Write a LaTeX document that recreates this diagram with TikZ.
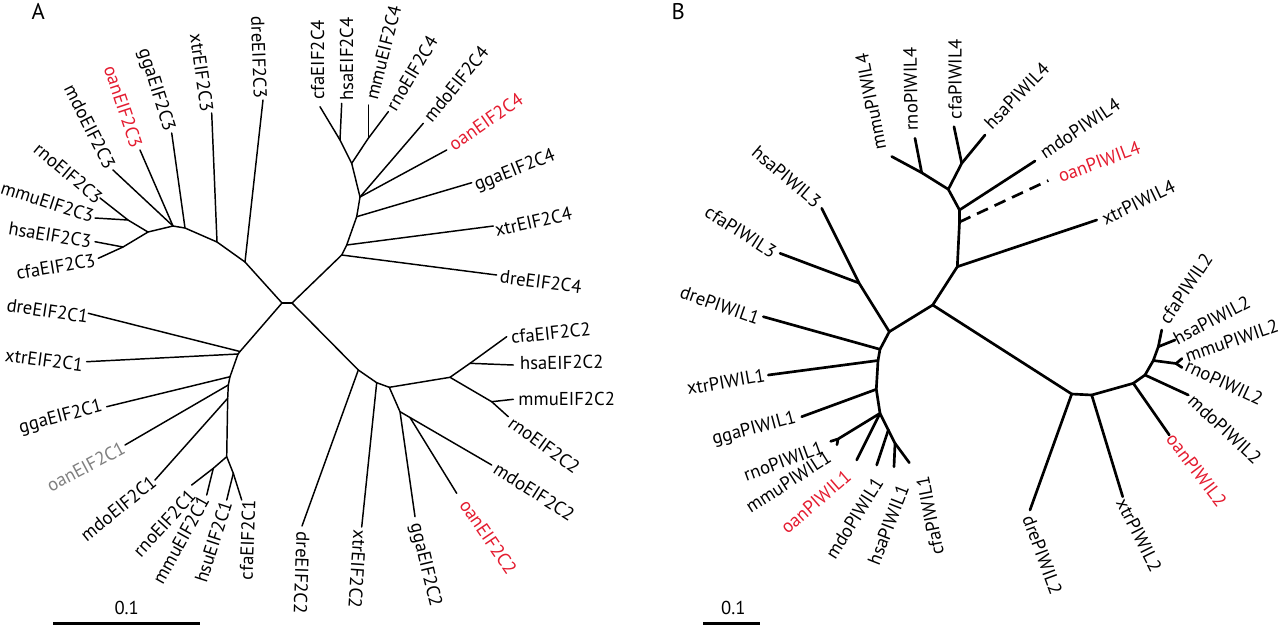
\documentclass[tikz,border=0pt]{standalone}
\usepackage{fontspec}
\setmainfont{PT Sans}
\definecolor{oanred}{RGB}{228,28,48}
\definecolor{oangrey}{RGB}{128,128,128}
\begin{document}
\begin{tikzpicture}[x=0.75pt,y=-0.75pt,
  brA/.style={line width=1.1pt,line cap=round,line join=round},
  brB/.style={line width=2pt,line cap=round,line join=round},
  lbl/.style={inner sep=0pt,font=\fontsize{14}{16}\selectfont},
  hl/.style={text=oanred},
  gr/.style={text=oangrey},
  sbar/.style={line width=2pt},
  dashbr/.style={line width=2pt,dash pattern=on 9pt off 5.5pt}]
\useasboundingbox (0,0) rectangle (1280,626);

% ================= Panel A =================
\node[lbl,font=\fontsize{17}{19}\selectfont] (panelA) at (38.3,11.7) {A};
\coordinate (cA1) at (282,303);
\coordinate (cA2) at (292,303);
% EIF2C3 clade
\coordinate (a3n1) at (245,262);
\coordinate (a3n2) at (217,242);
\coordinate (a3n3) at (185,228);
\coordinate (a3n4) at (173,226);
\coordinate (a3n5) at (148,232);
\coordinate (a3rm) at (128,220);
\coordinate (a3hc) at (123,247);
\coordinate (dre3) at (263,100);
\coordinate (xtr3) at (211.7,113);
\coordinate (gga3) at (171.7,133);
\coordinate (oan3) at (140,150);
\coordinate (mdo3) at (113,170);
\coordinate (rno3) at (100,198);
\coordinate (mmu3) at (95,218);
\coordinate (hsa3) at (95,241.7);
\coordinate (cfa3) at (98.3,258.3);
% EIF2C4 clade
\coordinate (a4n1) at (341.7,255);
\coordinate (a4n2) at (346.7,245);
\coordinate (a4n3) at (356.7,216.7);
\coordinate (a4n4) at (360,197);
\coordinate (a4n5) at (351.7,163.3);
\coordinate (a4ch) at (340,140);
\coordinate (a4mr) at (368.3,138.3);
\coordinate (dre4) at (496.7,275);
\coordinate (xtr4) at (493.3,226);
\coordinate (gga4) at (471.7,182.7);
\coordinate (oan4) at (446.7,150);
\coordinate (mdo4) at (423.3,123.3);
\coordinate (cfa4) at (320,106.7);
\coordinate (hsa4) at (341.7,103.3);
\coordinate (mmu4) at (368.3,105);
\coordinate (rno4) at (388.3,111.7);
% EIF2C1 clade
\coordinate (a1n1) at (240,351.5);
\coordinate (a1n2) at (238,354);
\coordinate (a1n3) at (230,376.7);
\coordinate (a1n4) at (228.3,385);
\coordinate (a1n5) at (227.7,398.3);
\coordinate (a1n6) at (226.7,456.7);
\coordinate (a1rm) at (213.3,468.3);
\coordinate (a1hc) at (233.3,473.3);
\coordinate (dre1) at (88.3,313.3);
\coordinate (xtr1) at (86.7,361.7);
\coordinate (gga1) at (106.7,406.7);
\coordinate (oan1) at (125,445);
\coordinate (mdo1) at (155,480);
\coordinate (rno1) at (191.7,485);
\coordinate (mmu1) at (206.7,495);
\coordinate (hsu1) at (226.7,500);
\coordinate (cfa1) at (241.7,500);
% EIF2C2 clade
\coordinate (a2n1) at (358.3,370);
\coordinate (a2n2) at (376.7,382.7);
\coordinate (a2n3) at (389.3,387.3);
\coordinate (a2g) at (400,411.7);
\coordinate (a2om) at (410,417.5);
\coordinate (a2mam) at (450,377.3);
\coordinate (a2ch) at (470,363.3);
\coordinate (a2mr) at (491.7,401.7);
\coordinate (dre2) at (302,526);
\coordinate (xtr2) at (361.7,527);
\coordinate (gga2) at (415,516.7);
\coordinate (oan2) at (456.7,493.3);
\coordinate (mdo2) at (491.7,465);
\coordinate (cfa2) at (506.7,336.7);
\coordinate (hsa2) at (513.3,365);
\coordinate (mmu2) at (513.3,399.3);
\coordinate (rno2) at (508.3,416.7);

\draw[brA] (cA1) -- (cA2);
\draw[brA] (cA1) -- (a3n1) -- (a3n2) -- (a3n3) -- (a3n4) -- (a3n5) -- (a3hc) -- (cfa3);
\draw[brA] (a3n1) -- (dre3);
\draw[brA] (a3n2) -- (xtr3);
\draw[brA] (a3n3) -- (gga3);
\draw[brA] (a3n4) -- (oan3);
\draw[brA] (a3n4) -- (mdo3);
\draw[brA] (a3n5) -- (a3rm) -- (rno3);
\draw[brA] (a3rm) -- (mmu3);
\draw[brA] (a3hc) -- (hsa3);

\draw[brA] (cA2) -- (a4n1) -- (a4n2) -- (a4n3) -- (a4n4) -- (a4n5) -- (a4ch) -- (cfa4);
\draw[brA] (a4n1) -- (dre4);
\draw[brA] (a4n2) -- (xtr4);
\draw[brA] (a4n3) -- (gga4);
\draw[brA] (a4n4) -- (oan4);
\draw[brA] (a4n4) -- (mdo4);
\draw[brA] (a4ch) -- (hsa4);
\draw[brA] (a4n5) -- (a4mr) -- (rno4);
\draw[brA] (a4mr) -- (mmu4);

\draw[brA] (cA1) -- (a1n1) -- (a1n2) -- (a1n3) -- (a1n4) -- (a1n5) -- (a1n6) -- (a1rm) -- (rno1);
\draw[brA] (a1n1) -- (dre1);
\draw[brA] (a1n2) -- (xtr1);
\draw[brA] (a1n3) -- (gga1);
\draw[brA] (a1n4) -- (oan1);
\draw[brA] (a1n5) -- (mdo1);
\draw[brA] (a1rm) -- (mmu1);
\draw[brA] (a1n6) -- (a1hc) -- (hsu1);
\draw[brA] (a1hc) -- (cfa1);

\draw[brA] (cA2) -- (a2n1) -- (a2n2) -- (a2n3) -- (a2mam) -- (a2ch) -- (cfa2);
\draw[brA] (a2n1) -- (dre2);
\draw[brA] (a2n2) -- (xtr2);
\draw[brA] (a2n3) -- (a2g) -- (gga2);
\draw[brA] (a2g) -- (a2om) -- (mdo2);
\draw[brA] (a2om) -- (oan2);
\draw[brA] (a2ch) -- (hsa2);
\draw[brA] (a2mam) -- (a2mr) -- (rno2);
\draw[brA] (a2mr) -- (mmu2);

% labels A
\node[lbl,rotate=-88] (tdre3) at (259,57.5) {dreEIF2C3};
\node[lbl,rotate=-82] (txtr3) at (201.7,72.5) {xtrEIF2C3};
\node[lbl,rotate=-72.6] (tgga3) at (155.8,90) {ggaEIF2C3};
\node[lbl,hl,rotate=-71.6] (toan3) at (123.3,106.7) {oanEIF2C3};
\node[lbl,rotate=-63.4] (tmdo3) at (90,126.7) {mdoEIF2C3};
\node[lbl,rotate=-40] (trno3) at (68.3,173.3) {rnoEIF2C3};
\node[lbl,rotate=-18] (tmmu3) at (47.5,201.7) {mmuEIF2C3};
\node[lbl,rotate=-9.5] (thsa3) at (50,235) {hsaEIF2C3};
\node[lbl,rotate=9.7] (tcfa3) at (55.8,266.7) {cfaEIF2C3};

\node[lbl,rotate=90] (tcfa4) at (317.5,60) {cfaEIF2C4};
\node[lbl,rotate=90] (thsa4) at (346.7,59) {hsaEIF2C4};
\node[lbl,rotate=75.7] (tmmu4) at (383.3,52.5) {mmuEIF2C4};
\node[lbl,rotate=59] (trno4) at (411.7,73.3) {rnoEIF2C4};
\node[lbl,rotate=50.9] (tmdo4) at (455.8,84.2) {mdoEIF2C4};
\node[lbl,hl,rotate=34.9] (toan4) at (485.8,121.7) {oanEIF2C4};
\node[lbl,rotate=21.6] (tgga4) at (515,170.8) {ggaEIF2C4};
\node[lbl,rotate=12.8] (txtr4) at (533.3,221.7) {xtrEIF2C4};
\node[lbl,rotate=-7.3] (tdre4) at (540.8,281.7) {dreEIF2C4};

\node[lbl,rotate=-8.5] (tdre1) at (47.5,310.8) {dreEIF2C1};
\node[lbl,rotate=-7.6] (txtr1) at (44.2,360) {xtrEIF2C1};
\node[lbl,rotate=14.9] (tgga1) at (60.8,417.5) {ggaEIF2C1};
\node[lbl,gr,rotate=28] (toan1) at (85.8,466.7) {oanEIF2C1};
\node[lbl,rotate=39] (tmdo1) at (118.3,508.3) {mdoEIF2C1};
\node[lbl,rotate=47.5] (trno1) at (164.2,523.3) {rnoEIF2C1};
\node[lbl,rotate=60.8] (tmmu1) at (180.8,540) {mmuEIF2C1};
\node[lbl,rotate=72] (thsu1) at (213.3,541.7) {hsuEIF2C1};
\node[lbl,rotate=88] (tcfa1) at (247.5,540) {cfaEIF2C1};

\node[lbl,rotate=-92] (tdre2) at (301.7,573) {dreEIF2C2};
\node[lbl,rotate=-93.8] (txtr2) at (357.5,569.2) {xtrEIF2C2};
\node[lbl,rotate=-76.5] (tgga2) at (425,565) {ggaEIF2C2};
\node[lbl,hl,rotate=-55.7] (toan2) at (488.3,536.7) {oanEIF2C2};
\node[lbl,rotate=-32.5] (tmdo2) at (534.2,491.7) {mdoEIF2C2};
\node[lbl,rotate=-36] (trno2) at (544.2,445) {rnoEIF2C2};
\node[lbl] (tmmu2) at (566.7,399.2) {mmuEIF2C2};
\node[lbl,rotate=1] (thsa2) at (561.7,362.5) {hsaEIF2C2};
\node[lbl,rotate=6] (tcfa2) at (550.8,333) {cfaEIF2C2};

% scale bar A
\coordinate (sbA1) at (53.3,623.3);
\coordinate (sbA2) at (200,623.3);
\draw[sbar] (sbA1) -- (sbA2);
\node[lbl] (sbAt) at (126.7,608.3) {0.1};

% ================= Panel B =================
\node[lbl,font=\fontsize{17}{19}\selectfont] (panelB) at (678.3,11.7) {B};
\coordinate (M) at (932.7,305);
\coordinate (X) at (957.3,266.7);
\coordinate (oanB) at (959.5,222);
\coordinate (Y) at (959.5,210);
\coordinate (Z) at (948.3,189.3);
\coordinate (W) at (921.7,172.7);
\coordinate (V) at (961.7,163.3);
\coordinate (bxtr4) at (1096.7,220);
\coordinate (boan4) at (1048.3,180.5);
\coordinate (bmdo4) at (1035,161);
\coordinate (bmmu4) at (891.7,156.5);
\coordinate (brno4) at (915,138.3);
\coordinate (bcfa4) at (954,126.7);
\coordinate (bhsa4) at (985,135);

\coordinate (N) at (889.3,331.7);
\coordinate (P3) at (859,283);
\coordinate (bcfa3) at (780,253.3);
\coordinate (bhsa3) at (821.7,208.3);
\coordinate (D1) at (880,349.3);
\coordinate (X1) at (878,360.5);
\coordinate (G1) at (876.3,389.3);
\coordinate (Q) at (880,413.3);
\coordinate (R) at (838,439);
\coordinate (m1) at (888.3,430);
\coordinate (m2) at (895,443.3);
\coordinate (bdre1) at (763.3,316.7);
\coordinate (bxtr1) at (768.3,375);
\coordinate (bgga1) at (801.7,416.7);
\coordinate (brno1) at (830.7,441.3);
\coordinate (bmmu1) at (837,444.7);
\coordinate (boan1) at (856.7,460);
\coordinate (bmdo1) at (876.7,465);
\coordinate (bhsa1) at (894,466.7);
\coordinate (bcfa1) at (909.3,462.7);

\coordinate (d2) at (1071.7,394);
\coordinate (x2) at (1091.7,395);
\coordinate (o2) at (1133.3,383.3);
\coordinate (md2) at (1145,375);
\coordinate (r2) at (1153.3,360.5);
\coordinate (rm2) at (1176,363.5);
\coordinate (hc2) at (1158.3,346.7);
\coordinate (bdre2) at (1030,510);
\coordinate (bxtr2) at (1122.7,496.7);
\coordinate (boan2) at (1169.3,435);
\coordinate (bmdo2) at (1188.3,395);
\coordinate (bmmu2) at (1182,358.5);
\coordinate (brno2) at (1182,367.5);
\coordinate (bhsa2) at (1175,340);
\coordinate (bcfa2) at (1161.7,330);

\draw[brB] (N) -- (M) -- (X) -- (oanB) -- (Y) -- (Z) -- (W) -- (bmmu4);
\draw[brB] (X) -- (bxtr4);
\draw[dashbr] (oanB) -- (boan4);
\draw[brB] (Y) -- (bmdo4);
\draw[brB] (W) -- (brno4);
\draw[brB] (Z) -- (V) -- (bcfa4);
\draw[brB] (V) -- (bhsa4);

\draw[brB] (N) -- (P3) -- (bhsa3);
\draw[brB] (P3) -- (bcfa3);
\draw[brB] (N) -- (D1) -- (X1) -- (G1) -- (Q);
\draw[brB] (D1) -- (bdre1);
\draw[brB] (X1) -- (bxtr1);
\draw[brB] (G1) -- (bgga1);
\draw[brB] (Q) -- (R) -- (brno1);
\draw[brB] (R) -- (bmmu1);
\draw[brB] (Q) -- (boan1);
\draw[brB] (Q) -- (m1) -- (bmdo1);
\draw[brB] (m1) -- (m2) -- (bhsa1);
\draw[brB] (m2) -- (bcfa1);

\draw[brB] (M) -- (d2) -- (x2) -- (o2) -- (md2) -- (r2) -- (rm2) -- (brno2);
\draw[brB] (d2) -- (bdre2);
\draw[brB] (x2) -- (bxtr2);
\draw[brB] (o2) -- (boan2);
\draw[brB] (md2) -- (bmdo2);
\draw[brB] (rm2) -- (bmmu2);
\draw[brB] (r2) -- (hc2) -- (bcfa2);
\draw[brB] (hc2) -- (bhsa2);

% labels B
\node[lbl,rotate=101] (tbmmu4) at (870.8,101.7) {mmuPIWIL4};
\node[lbl,rotate=91] (tbrno4) at (910.7,89) {rnoPIWIL4};
\node[lbl,rotate=90] (tbcfa4) at (955,79) {cfaPIWIL4};
\node[lbl,rotate=45.8] (tbhsa4) at (1016.7,95.8) {hsaPIWIL4};
\node[lbl,rotate=33.7] (tbmdo4) at (1080,128.3) {mdoPIWIL4};
\node[lbl,hl,rotate=20.2] (tboan4) at (1099.2,161.7) {oanPIWIL4};
\node[lbl,rotate=25.5] (tbxtr4) at (1138.3,202.5) {xtrPIWIL4};
\node[lbl,rotate=-40.4] (tbhsa3) at (786.7,176.7) {hsaPIWIL3};
\node[lbl,rotate=-32.4] (tbcfa3) at (740.8,231.7) {cfaPIWIL3};
\node[lbl,rotate=-19.2] (tbdre1) at (720,305) {drePIWIL1};
\node[lbl,rotate=10] (tbxtr1) at (725.8,381.7) {xtrPIWIL1};
\node[lbl,rotate=15] (tbgga1) at (754.2,429.2) {ggaPIWIL1};
\node[lbl,rotate=20] (tbrno1) at (783.3,460.8) {rnoPIWIL1};
\node[lbl,rotate=32.6] (tbmmu1) at (788.3,481.7) {mmuPIWIL1};
\node[lbl,hl,rotate=41] (tboan1) at (815.8,501.7) {oanPIWIL1};
\node[lbl,rotate=57.8] (tbmdo1) at (854.2,518.3) {mdoPIWIL1};
\node[lbl,rotate=68.6] (tbhsa1) at (888.3,525) {hsaPIWIL1};
\node[lbl,rotate=101] (tbcfa1) at (930,515.8) {cfaPIWIL1};
\node[lbl,rotate=-69.7] (tbdre2) at (1042.5,555) {drePIWIL2};
\node[lbl,rotate=-63.4] (tbxtr2) at (1139.2,535) {xtrPIWIL2};
\node[lbl,hl,rotate=-52.7] (tboan2) at (1196.7,470) {oanPIWIL2};
\node[lbl,rotate=-42.9] (tbmdo2) at (1225,429.2) {mdoPIWIL2};
\node[lbl,rotate=-25] (tbrno2) at (1224.2,382.5) {rnoPIWIL2};
\node[lbl,rotate=18.7] (tbmmu2) at (1231.7,340.8) {mmuPIWIL2};
\node[lbl,rotate=27.5] (tbhsa2) at (1211.7,320) {hsaPIWIL2};
\node[lbl,rotate=56] (tbcfa2) at (1185.8,288.3) {cfaPIWIL2};

% scale bar B
\coordinate (sbB1) at (703.3,623.3);
\coordinate (sbB2) at (760,623.3);
\draw[sbar] (sbB1) -- (sbB2);
\node[lbl] (sbBt) at (733.3,608.3) {0.1};
\end{tikzpicture}
\end{document}
